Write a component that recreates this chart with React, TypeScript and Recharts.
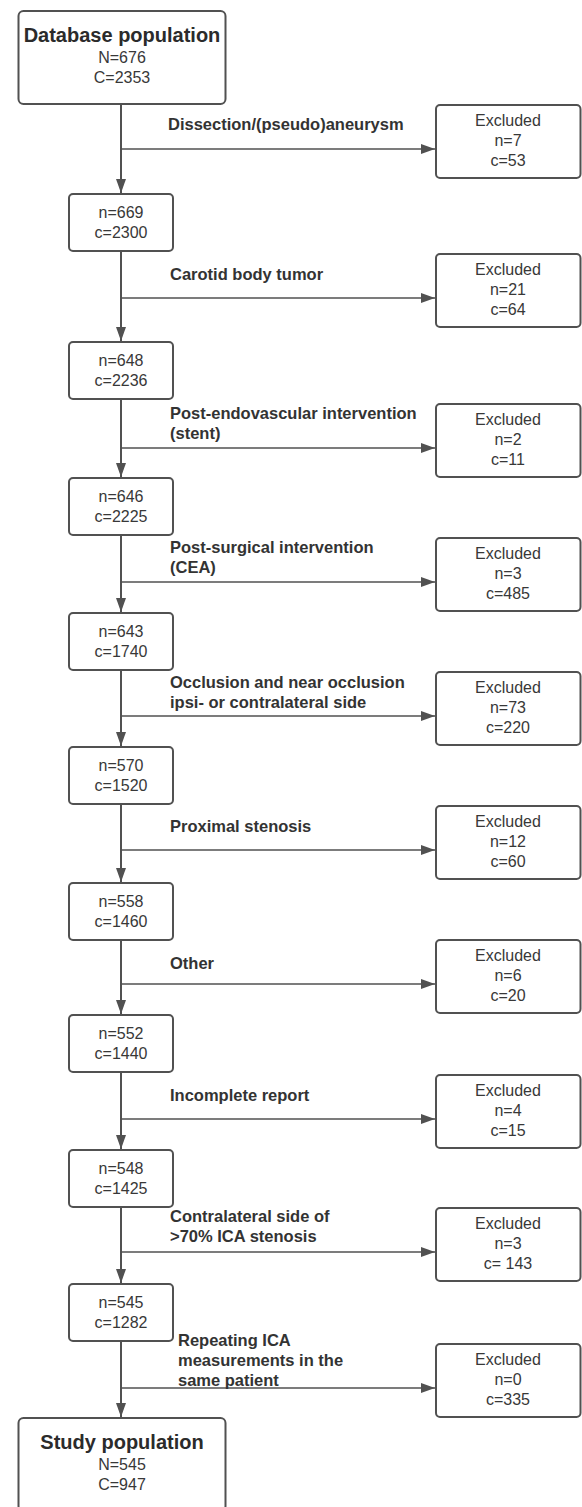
import React from "react";
import { ScatterChart, Scatter, XAxis, YAxis } from "recharts";

const W = 582;
const H = 1507;

// flow counts: patients (n) and carotids (c) left after each step
const stepN = [676, 669, 648, 646, 643, 570, 558, 552, 548, 545, 545];
const stepC = [2353, 2300, 2236, 2225, 1740, 1520, 1460, 1440, 1425, 1282, 947];
const endTitles = ["Database population", "Study population"];

// exclusion reasons and counts
const reasons = [
  ["Dissection/(pseudo)aneurysm"],
  ["Carotid body tumor"],
  ["Post-endovascular intervention", "(stent)"],
  ["Post-surgical intervention", "(CEA)"],
  ["Occlusion and near occlusion", "ipsi- or contralateral side"],
  ["Proximal stenosis"],
  ["Other"],
  ["Incomplete report"],
  ["Contralateral side of", ">70% ICA stenosis"],
  ["Repeating ICA", "measurements in the", "same patient"],
];
const excludedN = [7, 21, 2, 3, 73, 12, 6, 4, 3, 0];
const excludedC = ["53", "64", "11", "485", "220", "60", "20", "15", " 143", "335"];

// layout (pixels)
const boxTop = [10, 193, 341, 477, 612, 746, 882, 1014, 1149, 1283, 1417];
const branchY = [149, 298, 448, 582, 716, 850, 984, 1119, 1252, 1388];
const labelTop = [124, 274, 413, 547, 682, 826, 963, 1095, 1216, 1340];
const labelX = [168, 170, 170, 170, 170, 170, 170, 170, 170, 178];

const MAIN_X = 121;
const EXCL_X = 508;
const ARROW_END_X = 435;
const BIG_H = 95;
const BOX_H = 59;
const EXCL_H = 75;

const STROKE = "#515151";
const FONT = "'Liberation Sans', Arial, Helvetica, sans-serif";

const last = stepN.length - 1;

const stepPoints = stepN.map((n, i) => {
  const big = i === 0 || i === last;
  const h = big ? BIG_H : BOX_H;
  return {
    x: MAIN_X,
    y: boxTop[i] + h / 2,
    big,
    title: i === 0 ? endTitles[0] : i === last ? endTitles[1] : "",
    n,
    c: stepC[i],
  };
});

const exclPoints = excludedN.map((n, i) => ({
  x: EXCL_X,
  y: branchY[i] - 45 + EXCL_H / 2,
  n,
  c: excludedC[i],
}));

const labelPoints = reasons.map((lines, i) => ({ x: labelX[i], y: labelTop[i], lines }));

const verticalLinks = stepN.slice(0, last).map((_, i) => {
  const bottom = boxTop[i] + (i === 0 ? BIG_H : BOX_H);
  return [
    { x: MAIN_X, y: bottom, arrow: "" },
    { x: MAIN_X, y: boxTop[i + 1], arrow: "down" },
  ];
});

const branchLinks = branchY.map((y) => [
  { x: MAIN_X, y, arrow: "" },
  { x: ARROW_END_X, y, arrow: "right" },
]);

function ArrowHead(props: any) {
  const { cx, cy, payload } = props;
  if (payload.arrow === "down") {
    return <polygon points={`${cx - 5},${cy - 14} ${cx + 5},${cy - 14} ${cx},${cy}`} fill={STROKE} />;
  }
  if (payload.arrow === "right") {
    return <polygon points={`${cx - 14},${cy - 5} ${cx - 14},${cy + 5} ${cx},${cy}`} fill={STROKE} />;
  }
  return <g />;
}

function StepBox(props: any) {
  const { cx, cy, payload } = props;
  if (payload.big) {
    const w = 207;
    const top = cy - BIG_H / 2;
    return (
      <g fontFamily={FONT}>
        <rect x={cx - w / 2 + 1} y={top + 1} width={w} height={BIG_H - 2} rx={5} fill="#fff" stroke={STROKE} strokeWidth={2} />
        <text x={cx + 1} y={top + 32} textAnchor="middle" fontSize={20} fontWeight={700} fill="#2b2b2b">
          {payload.title}
        </text>
        <text x={cx + 1} y={top + 53} textAnchor="middle" fontSize={16} fill="#383838">{`N=${payload.n}`}</text>
        <text x={cx + 1} y={top + 73} textAnchor="middle" fontSize={16} fill="#383838">{`C=${payload.c}`}</text>
      </g>
    );
  }
  const w = 104;
  const top = cy - BOX_H / 2;
  return (
    <g fontFamily={FONT}>
      <rect x={cx - w / 2} y={top + 1} width={w} height={BOX_H - 2} rx={4} fill="#fff" stroke={STROKE} strokeWidth={2} />
      <text x={cx} y={top + 25} textAnchor="middle" fontSize={16} fill="#383838">{`n=${payload.n}`}</text>
      <text x={cx} y={top + 45} textAnchor="middle" fontSize={16} fill="#383838">{`c=${payload.c}`}</text>
    </g>
  );
}

function ExcludedBox(props: any) {
  const { cx, cy, payload } = props;
  const top = cy - EXCL_H / 2;
  const left = ARROW_END_X + 1;
  return (
    <g fontFamily={FONT}>
      <rect x={left} y={top + 1} width={W - left - 1.5} height={EXCL_H - 2} rx={4} fill="#fff" stroke={STROKE} strokeWidth={2} />
      <text x={cx} y={top + 22} textAnchor="middle" fontSize={16} fill="#383838">Excluded</text>
      <text x={cx} y={top + 42} textAnchor="middle" fontSize={16} fill="#383838">{`n=${payload.n}`}</text>
      <text x={cx} y={top + 62} textAnchor="middle" fontSize={16} fill="#383838" style={{ whiteSpace: "pre" }}>
        {`c=${payload.c}`}
      </text>
    </g>
  );
}

function ReasonLabel(props: any) {
  const { cx, cy, payload } = props;
  return (
    <text x={cx} y={cy + 6} fontFamily={FONT} fontSize={16.5} fontWeight={700} fill="#333">
      {payload.lines.map((line: string, k: number) => (
        <tspan key={k} x={cx} dy={k === 0 ? 0 : 20}>
          {line}
        </tspan>
      ))}
    </text>
  );
}

export default function App() {
  return (
    <div style={{ position: "absolute", left: 0, top: 0, width: W, height: H, background: "#fff" }}>
      <ScatterChart width={W} height={H} margin={{ top: 0, right: 0, bottom: 0, left: 0 }}>
        <XAxis type="number" dataKey="x" domain={[0, W]} allowDataOverflow hide />
        <YAxis type="number" dataKey="y" domain={[0, H]} allowDataOverflow reversed hide />
        {verticalLinks.map((d, i) => (
          <Scatter
            key={`v${i}`}
            data={d}
            line={{ stroke: STROKE, strokeWidth: 2 }}
            shape={ArrowHead}
            isAnimationActive={false}
          />
        ))}
        {branchLinks.map((d, i) => (
          <Scatter
            key={`h${i}`}
            data={d}
            line={{ stroke: STROKE, strokeWidth: 1.6 }}
            shape={ArrowHead}
            isAnimationActive={false}
          />
        ))}
        <Scatter data={stepPoints} shape={StepBox} isAnimationActive={false} />
        <Scatter data={exclPoints} shape={ExcludedBox} isAnimationActive={false} />
        <Scatter data={labelPoints} shape={ReasonLabel} isAnimationActive={false} />
      </ScatterChart>
    </div>
  );
}
